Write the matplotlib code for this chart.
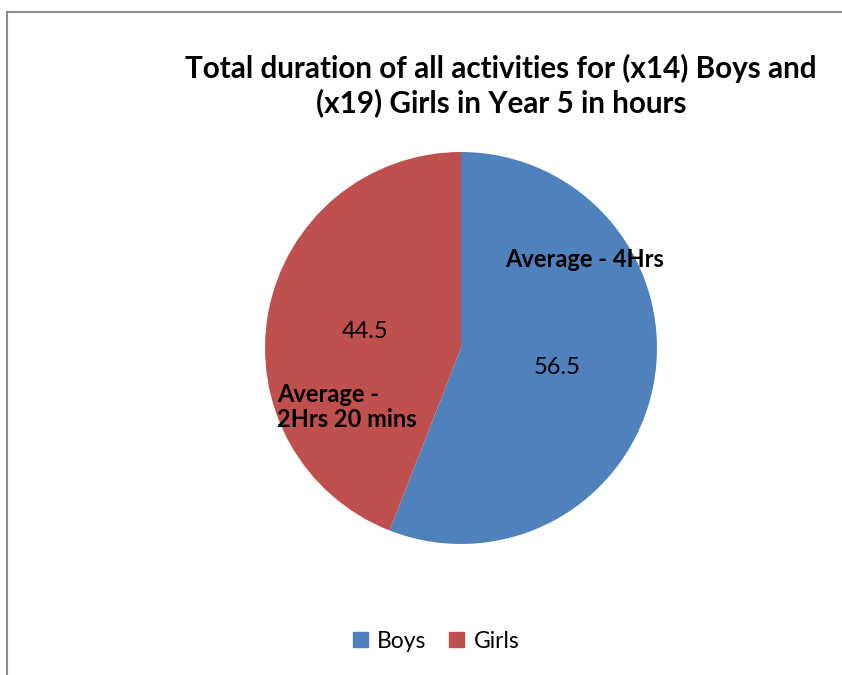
import matplotlib
matplotlib.use("Agg")
import matplotlib.pyplot as plt
from matplotlib.lines import Line2D

# Totals in hours per group
groups = ["Boys", "Girls"]
totals = [56.5, 44.5]
colors = ["#4F81BD", "#C0504D"]
averages = ["Average - 4Hrs", "Average -\n2Hrs 20 mins"]

title = "Total duration of all activities for (x14) Boys and\n(x19) Girls in Year 5 in hours"

plt.rcParams["font.family"] = ["Lato", "DejaVu Sans"]

fig = plt.figure(figsize=(8.42, 6.75), dpi=100)
fig.patch.set_facecolor("white")

# chart frame (left and top edges)
fig.add_artist(Line2D([0.0085, 0.0085], [0.0, 0.982], color="#8c8c8c", lw=1.5,
                      transform=fig.transFigure))
fig.add_artist(Line2D([0.0085, 1.0], [0.982, 0.982], color="#8c8c8c", lw=1.5,
                      transform=fig.transFigure))

ax = fig.add_axes([0.3147, 0.1941, 0.4656, 0.5807])
wedges, _ = ax.pie(totals, colors=colors, startangle=90, counterclock=False,
                   radius=1.0, wedgeprops=dict(linewidth=0))
ax.set_xlim(-1, 1)
ax.set_ylim(-1, 1)
ax.set_aspect("equal")
ax.axis("off")

# value labels
value_pos = [(0.490, -0.102), (-0.490, 0.082)]
for v, (x, y) in zip(totals, value_pos):
    ax.text(x, y, f"{v:g}", ha="center", va="center", fontsize=17, color="black")

# average annotations
ax.text(0.633, 0.449, averages[0], ha="center", va="center",
        fontsize=17, fontweight="bold")
ax.text(-0.939, -0.301, averages[1], ha="left", va="center",
        fontsize=17, fontweight="bold", linespacing=1.1)

fig.text(0.595, 0.873, title, ha="center", va="center", fontsize=21.3,
         fontweight="bold", linespacing=1.2)

handles = [plt.Rectangle((0, 0), 1, 1, color=c) for c in colors]
fig.legend(handles, groups, loc="center", bbox_to_anchor=(0.518, 0.050),
           ncol=2, frameon=False, fontsize=16.5, handlelength=0.65,
           handleheight=0.65, handletextpad=0.4, columnspacing=1.0)

fig.savefig("out.png", dpi=100)
